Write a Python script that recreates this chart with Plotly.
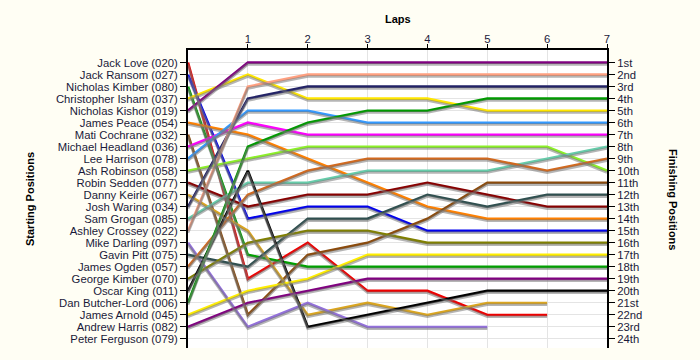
import plotly.graph_objects as go

drivers = ["Jack Love (020)", "Jack Ransom (027)", "Nicholas Kimber (080)", "Christopher Isham (037)",
           "Nicholas Kishor (019)", "James Peace (054)", "Mati Cochrane (032)", "Michael Headland (036)",
           "Lee Harrison (078)", "Ash Robinson (058)", "Robin Sedden (077)", "Danny Keirle (067)",
           "Josh Waring (034)", "Sam Grogan (085)", "Ashley Crossey (022)", "Mike Darling (097)",
           "Gavin Pitt (075)", "James Ogden (057)", "George Kimber (070)", "Oscar King (011)",
           "Dan Butcher-Lord (006)", "James Arnold (045)", "Andrew Harris (082)", "Peter Ferguson (079)"]

finish_labels = ["1st", "2nd", "3rd", "4th", "5th", "6th", "7th", "8th", "9th", "10th", "11th", "12th",
                 "13th", "14th", "15th", "16th", "17th", "18th", "19th", "20th", "21st", "22nd", "23rd", "24th"]

lap_ticks = [1, 2, 3, 4, 5, 6, 7]

# positions at laps 0..n for each driver
love = [1, 19, 16, 20, 20, 22, 22]
ransom = [2, 14, 13, 13, 15, 15, 15, 15]
n_kimber = [3, 17, 18, 18, 18, 18, 18, 18]
isham = [4, 2, 4, 4, 4, 5, 5, 5]
kishor = [5, 1, 1, 1, 1, 1, 1, 1]
peace = [6, 7, 9, 11, 13, 14, 14, 14]
cochrane = [7, 22, 17, 16, 14, 11, 11, 11]
headland = [8, 6, 7, 7, 7, 7, 7, 7]
harrison = [9, 5, 5, 6, 6, 6, 6, 6]
robinson = [10, 9, 8, 8, 8, 8, 8, 10]
sedden = [11, 13, 12, 12, 11, 12, 13, 13]
keirle = [12, 15, 22, 21, 22, 21, 21]
waring = [13, 4, 3, 3, 3, 3, 3, 3]
grogan = [14, 11, 11, 10, 10, 10, 9, 8]
crossey = [15, 3, 2, 2, 2, 2, 2, 2]
darling = [16, 23, 21, 23, 23, 23]
pitt = [17, 18, 14, 14, 12, 13, 12, 12]
ogden = [18, 12, 10, 9, 9, 9, 10, 9]
g_kimber = [19, 16, 15, 15, 16, 16, 16, 16]
king = [20, 10, 23, 22, 21, 20, 20, 20]
butcher_lord = [21, 8, 6, 5, 5, 4, 4, 4]
arnold = [22, 20, 19, 17, 17, 17, 17, 17]
harris = [23, 21, 20, 19, 19, 19, 19, 19]

series = [
    (drivers[0], love, "#EE0000"),
    (drivers[1], ransom, "#0000EE"),
    (drivers[2], n_kimber, "#00A000"),
    (drivers[3], isham, "#FFE600"),
    (drivers[4], kishor, "#800080"),
    (drivers[5], peace, "#FF8000"),
    (drivers[6], cochrane, "#8B4A0B"),
    (drivers[7], headland, "#FF00FF"),
    (drivers[8], harrison, "#3399FF"),
    (drivers[9], robinson, "#8CF028"),
    (drivers[10], sedden, "#880000"),
    (drivers[11], keirle, "#DAA520"),
    (drivers[12], waring, "#222266"),
    (drivers[13], grogan, "#66CCAA"),
    (drivers[14], crossey, "#FFA080"),
    (drivers[15], darling, "#9370DB"),
    (drivers[16], pitt, "#2F4F4F"),
    (drivers[17], ogden, "#D2691E"),
    (drivers[18], g_kimber, "#808000"),
    (drivers[19], king, "#000000"),
    (drivers[20], butcher_lord, "#009A00"),
    (drivers[21], arnold, "#FFEE00"),
    (drivers[22], harris, "#800080"),
]

fig = go.Figure()

YMAX, YMIN = 24.75, -0.05
shadow = 0.15

# shadows
for name, pos, color in series:
    fig.add_trace(go.Scatter(x=list(range(len(pos))), y=pos, mode="lines", yaxis="y3",
                             line=dict(color="rgba(120,120,120,0.55)", width=2.6),
                             hoverinfo="skip", showlegend=False))
# lines
for name, pos, color in series:
    fig.add_trace(go.Scatter(x=list(range(len(pos))), y=pos, mode="lines", name=name,
                             line=dict(color=color, width=2.6), showlegend=False))

# invisible trace for right axis
fig.add_trace(go.Scatter(x=[0], y=[1], yaxis="y2", mode="markers", marker=dict(opacity=0),
                         hoverinfo="skip", showlegend=False))

font_family = "Liberation Sans, Arial, sans-serif"
txt = "#1a1a3a"
fs = 11.3

fig.update_layout(
    width=700, height=360,
    margin=dict(l=188, r=93, t=50, b=12, autoexpand=False),
    paper_bgcolor="#FFFEF4",
    plot_bgcolor="#FFFFFF",
    font=dict(family=font_family, size=fs, color=txt),
    xaxis=dict(range=[0, 7], side="top", tickvals=lap_ticks, ticktext=[str(t) for t in lap_ticks],
               showgrid=True, gridcolor="#E4E4E4", gridwidth=1, zeroline=False, automargin=False,
               showline=True, linecolor="black", linewidth=2, ticks="outside", ticklen=4,
               ticklabelstandoff=-4,
               tickcolor="black", tickfont=dict(size=fs, color=txt)),
    yaxis=dict(range=[YMAX, YMIN], tickvals=list(range(1, 25)), ticktext=drivers, automargin=False,
               showgrid=True, gridcolor="#E4E4E4", gridwidth=1, zeroline=False,
               showline=True, linecolor="black", linewidth=2, ticks="outside", ticklen=6,
               tickcolor="black", tickfont=dict(size=fs, color=txt)),
    yaxis2=dict(range=[YMAX, YMIN], overlaying="y", side="right", tickvals=list(range(1, 25)),
                ticktext=finish_labels, showgrid=False, zeroline=False, automargin=False,
                showline=True, linecolor="black", linewidth=2, ticks="outside", ticklen=6,
                tickcolor="black", tickfont=dict(size=fs, color=txt), anchor="x"),
    yaxis3=dict(range=[YMAX - shadow, YMIN - shadow], overlaying="y", visible=False),
)

fig.add_annotation(text="<b>Laps</b>", xref="paper", yref="paper", x=0.5, y=1.0, yshift=39,
                   showarrow=False, font=dict(size=11, color="black"))
fig.add_annotation(text="<b>Starting Positions</b>", xref="paper", yref="paper", x=0.0, y=0.5,
                   xshift=-166, textangle=-90, showarrow=False, font=dict(size=11, color="black"))
fig.add_annotation(text="<b>Finishing Positions</b>", xref="paper", yref="paper", x=1.0, y=0.5,
                   xshift=74, textangle=90, showarrow=False, font=dict(size=11, color="black"))

fig.write_html("out.html", config={"displayModeBar": False},
               post_script="document.body.style.margin='0';document.body.style.background='#FFFEF4';")
